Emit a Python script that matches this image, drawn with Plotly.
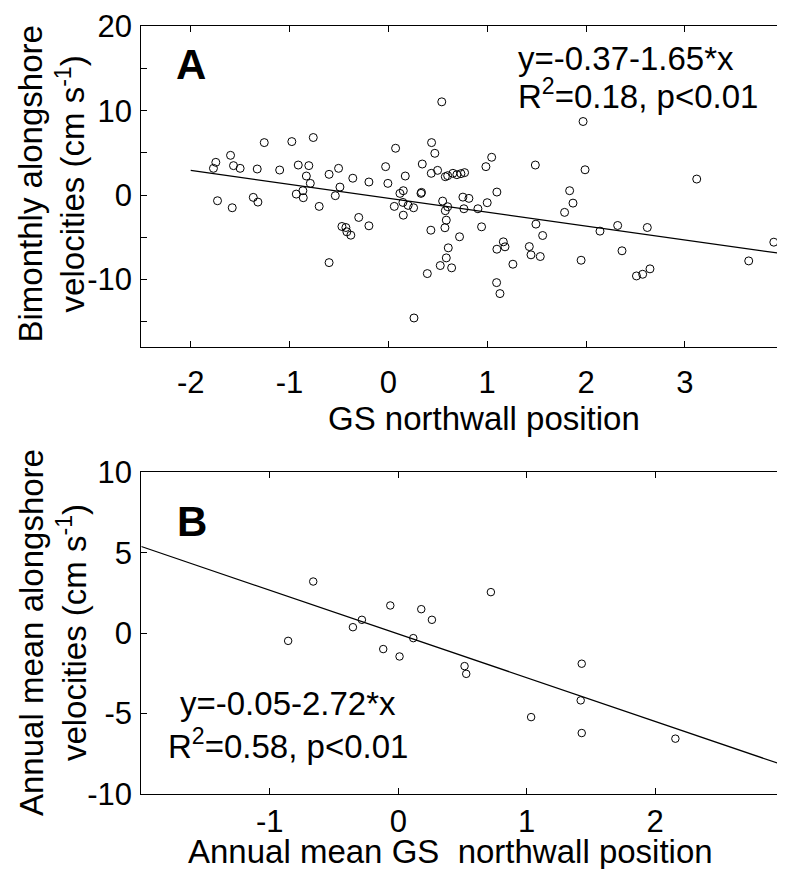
import numpy as np
import plotly.graph_objects as go

# ---------------- Panel A data (bimonthly) ----------------
a_x = [0.54, -1.256, -0.977, -0.76, -1.597, -1.746, -1.77, -1.567, -1.50, -1.327,
       -1.10, -0.912, -0.805, -0.83, -0.60, -0.504, -0.36, -0.028, 0.073, 0.171,
       0.437, 0.47, 0.343, 0.434, 0.498, 0.576, 0.60, 0.653, 0.693, 0.734,
       0.771, 1.97, 1.045, 0.987, 1.487, 1.99, 3.12, -0.79, -0.49, -0.537,
       -0.197, -0.005, -1.729, -1.58, -1.367, -1.32, -0.932, -0.865, -0.861, -0.70,
       -0.30, -0.197, -0.47, -0.43, -0.42, -0.38, -0.60, 0.117, 0.151, 0.33,
       0.335, 0.06, 0.147, 0.20, 0.255, 0.151, 0.259, 0.549, 0.60, 0.576,
       0.586, 0.572, 0.43, 0.72, 0.606, 0.586, 0.525, 0.64, 0.394, 0.754,
       0.815, 0.764, 0.906, 1.098, 1.0, 1.834, 1.868, 1.783, 0.943, 1.493,
       1.561, 2.141, 2.32, 2.62, 1.163, 1.098, 1.18, 1.426, 1.443, 1.537,
       1.26, 1.95, 2.364, 1.095, 1.129, 2.51, 2.573, 2.647, 3.646, 3.9]
a_y = [11.05, 6.22, 6.34, 6.82, 4.71, 3.88, 3.17, 3.49, 3.17, 3.09,
       2.97, 3.56, 3.49, 2.26, 2.46, 3.17, 2.0, 3.37, 5.55, 2.26,
       6.22, 4.95, 3.68, 2.58, 2.93, 2.18, 2.30, 2.58, 2.42, 2.54,
       2.66, 8.72, 4.48, 3.37, 3.56, 3.0, 1.9, 1.39, 0.95, -0.07,
       1.55, 1.39, -0.67, -1.5, -0.27, -0.83, 0.12, 0.52, -0.31, -1.34,
       -2.65, -3.64, -3.72, -3.84, -4.35, -4.75, -8.0, 0.2, 0.52, 0.2,
       0.32, -1.34, -0.87, -1.22, -1.5, -2.38, -14.56, -0.71, -1.38, -1.85,
       -2.97, -3.87, -4.16, -4.94, -6.25, -7.44, -8.35, -8.62, -9.3, -0.24,
       -0.39, -1.62, -1.62, 0.36, -0.9, 0.52, -0.95, -2.05, -3.76, -3.44,
       -4.79, -4.27, -3.6, -3.84, -5.54, -6.41, -6.13, -6.1, -7.08, -7.28,
       -8.19, -7.72, -6.6, -10.37, -11.67, -9.58, -9.38, -8.74, -7.8, -5.58]
a_fit_x = [-2.0, 4.0]
a_intercept, a_slope = -0.37, -1.65

a_xticks = [-2, -1, 0, 1, 2, 3]
a_xticktext = ["-2", "-1", "0", "1", "2", "3"]
a_yticks = [-10, 0, 10, 20]
a_yticktext = ["-10", "0", "10", "20"]
a_yminor = [-15, -5, 5, 15]

# ---------------- Panel B data (annual mean) ----------------
b_x = [-0.857, -0.662, -0.353, -0.283, -0.117, -0.062, 0.01, 0.117, 0.179, 0.262,
       0.516, 0.529, 0.721, 1.034, 1.428, 1.42, 1.428, 2.157]
b_y = [-0.48, 3.21, 0.37, 0.83, -0.99, 1.72, -1.45, -0.31, 1.49, 0.83,
       -2.05, -2.53, 2.55, -5.22, -1.9, -4.18, -6.21, -6.56]
b_fit_x = [-2.0, 3.0]
b_intercept, b_slope = -0.05, -2.72

b_xticks = [-1, 0, 1, 2]
b_xticktext = ["-1", "0", "1", "2"]
b_yticks = [-10, -5, 0, 5, 10]
b_yticktext = ["-10", "-5", "0", "5", "10"]

W, H = 785, 869
FONT = "Arial, Liberation Sans, sans-serif"

def px(x):
    return x / W

def py(y):
    return 1 - y / H

fig = go.Figure()

fig.add_trace(go.Scatter(
    x=a_x, y=a_y, mode="markers", xaxis="x", yaxis="y",
    marker=dict(symbol="circle-open", size=8, color="black", line=dict(width=1, color="black")),
    showlegend=False))
fig.add_trace(go.Scatter(
    x=a_fit_x, y=[a_intercept + a_slope * v for v in a_fit_x], mode="lines",
    xaxis="x", yaxis="y", line=dict(color="black", width=1.2), showlegend=False))

fig.add_trace(go.Scatter(
    x=b_x, y=b_y, mode="markers", xaxis="x2", yaxis="y2",
    marker=dict(symbol="circle-open", size=7.5, color="black", line=dict(width=1, color="black")),
    showlegend=False))
fig.add_trace(go.Scatter(
    x=b_fit_x, y=[b_intercept + b_slope * v for v in b_fit_x], mode="lines",
    xaxis="x2", yaxis="y2", line=dict(color="black", width=1.2), showlegend=False))

axis_common = dict(showline=True, linecolor="black", linewidth=1, mirror="allticks",
                   ticks="inside", ticklen=6, tickcolor="black", tickwidth=1,
                   showgrid=False, zeroline=False, automargin=False,
                   tickfont=dict(family=FONT, size=31, color="black"))

xd = [px(133.3), px(775.7)]
fig.update_layout(
    width=W, height=H,
    margin=dict(l=0, r=0, t=0, b=0, autoexpand=False),
    paper_bgcolor="white", plot_bgcolor="white",
    xaxis=dict(domain=xd, anchor="y", range=[-2.5, 4], tickvals=a_xticks, ticktext=a_xticktext,
               ticklabelstandoff=8, **axis_common),
    yaxis=dict(domain=[py(339), py(18.3)], anchor="x", range=[-18, 20],
               tickvals=a_yticks, ticktext=a_yticktext, ticklabelstandoff=2,
               minor=dict(tickvals=a_yminor, ticks="inside", ticklen=6, tickcolor="black",
                          tickwidth=1, showgrid=False),
               **axis_common),
    xaxis2=dict(domain=xd, anchor="y2", range=[-2, 3], tickvals=b_xticks, ticktext=b_xticktext,
                ticklabelstandoff=0, **axis_common),
    yaxis2=dict(domain=[py(786), py(464.3)], anchor="x2", range=[-10, 10],
                tickvals=b_yticks, ticktext=b_yticktext, ticklabelstandoff=2, **axis_common),
)

def ann(text, x, y, size=33, xanchor="center", yanchor="middle", bold=False, angle=0, align="center"):
    fig.add_annotation(
        text=("<b>%s</b>" % text) if bold else text,
        xref="paper", yref="paper", x=px(x), y=py(y),
        xanchor=xanchor, yanchor=yanchor, showarrow=False, textangle=angle, align=align,
        font=dict(family=FONT, size=size, color="black"))

# panel letters
ann("A", 183.3, 56, size=42, bold=True)
ann("B", 184, 513.5, size=42, bold=True)

# equations
ann("y=-0.37-1.65*x", 508, 50.5, xanchor="left")
ann("R<sup>2</sup>=0.18, p<0.01", 508, 85.5, xanchor="left")
ann("y=-0.05-2.72*x", 280, 695.5)
ann("R<sup>2</sup>=0.58, p<0.01", 280, 735.5)

# axis titles
ann("GS northwall position", 476, 410.5)
ann("Annual mean GS\u00a0 northwall position", 442.6, 843.5)
ann("Bimonthly alongshore<br>velocities (cm s<sup>-1</sup>)", 43.5, 176, angle=-90)
ann("Annual mean alongshore<br>velocities (cm s<sup>-1</sup>)", 45, 625, angle=-90)

fig.write_html("out.html")
